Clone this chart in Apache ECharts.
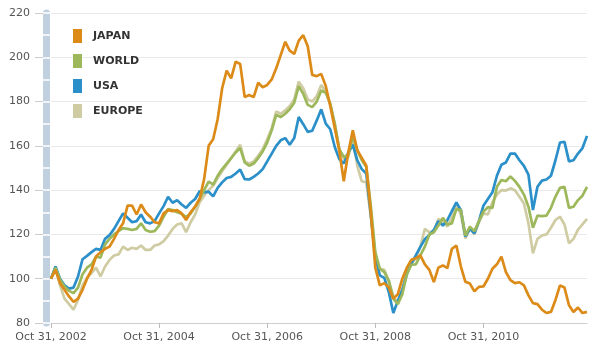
<!DOCTYPE html>
<html>
<head>
<meta charset="utf-8">
<script src="https://cdn.jsdelivr.net/npm/echarts@6/dist/echarts.min.js"></script>
<style>
html,body{margin:0;padding:0;background:#fff;}
#chart{width:600px;height:349px;}
</style>
</head>
<body>
<div id="chart"></div>
<script>
// Monthly index values, Oct 2002 = 100
var startYear = 2002, startMonth = 10, monthCount = 120;
var tickLabels = ['Oct 31, 2002', 'Oct 31, 2004', 'Oct 31, 2006', 'Oct 31, 2008', 'Oct 31, 2010'];
var seriesNames = ['JAPAN', 'WORLD', 'USA', 'EUROPE'];

var japan = [100,104,98,95,92,89.5,91,95,100,104,110,112,113.5,114.5,118,122,125,133,133,129,
  133.5,130,128,125.5,125,129.5,131,130.5,131,129.5,126.5,130,132.6,136,145,160,163,172,186,194,
  190.5,198,197,182,183,182,188.5,186.5,187.5,190,195,201,207,203,201.5,207.5,210,205,192,191.5,
  192.5,187,178,168,158,144,157,167,158,154.5,151,130,105,97,98,96,91,93,100,105,
  108.5,109.2,110.5,106.5,104,98.5,105,106,104.8,113.5,115,105.5,98.6,97.8,94.3,96.3,96.5,100,104.5,106.5,
  110,103,99.4,98,98.4,97,92.5,89,88.5,86,84.5,85,90.4,97,96,88,85,87,84.5,85];

var world = [100,105,99.5,96.5,94.5,93.5,96,102,105,106.5,110,109.5,115.5,118,120,121.5,122.8,122.5,122,122.5,
  125,122,121.2,121.5,124,128,131.5,131,130,129.3,127.8,129.5,132.5,136,140,143.9,142.5,146.5,149.5,152,
  154.5,157,159,152.5,151,152,154.5,157.5,161.5,167,174,173,174.5,176.5,179.5,187,183.5,178.5,177.5,180,
  185,184,179,170,158.5,155,156,164.5,158,153.5,150.5,133,112,104.5,103,99,91,88.5,93,102,
  106.3,106.5,110.5,114.5,120,121,124,127.5,124.5,125,131.5,131,119.5,123.5,121.5,126,130.3,132.3,132,141.5,
  144.6,144,146.2,144.2,141.5,138,132.5,123,128.5,128.3,128.5,132,137.1,141,141.5,132,132.5,135.5,137.5,141.5];

var usa = [100,105.5,100,97,95.5,96,101,108.8,110.3,112,113.5,113,118,119.7,122.5,126,129.5,127.5,125.5,126,
  129,125.5,125,126,129.5,132.8,137,134.3,135.5,133.5,132,134.3,136,139.5,139,139.3,137.2,141,143.5,145.5,
  146,147.5,149.3,145,144.8,146,147.5,149.5,153,156.5,160,162.5,163.5,160.5,163.5,173,169.8,166.3,166.8,171.5,
  176.5,170,167.5,159.5,154,152,157,160.5,153.5,149.5,147.5,129,110,101.5,100.4,94,84.5,90,95,102,
  107,110.5,114.4,117.8,119.8,122,126,124,126.5,130.5,134.5,131,119,122.5,120.5,126,133,136,139,146.5,
  151.5,152.5,156.5,156.5,153.5,151,147,131,141.5,144.3,144.8,146.5,153.5,161.5,161.8,153,153.5,156.5,159,164.5];

var europe = [100,105,97,91,88.5,86,90.5,97,100.5,102.5,105,101,105.5,108.5,110.5,111,114.5,113,114,113.5,
  115,113,113,115,115.5,117,119.5,122.5,124.5,125,121,125.5,129,134.5,137.5,140,142,145.5,148.5,151.5,
  154.5,157.5,160.5,153,152,153,155.5,158.5,163,168,175.5,174.5,176,178,181,189,186,181,180,182.5,
  187.5,184.5,179,170,158.5,154,155,163.5,151,144,143.5,128,110,104.5,104,99,92,89,95,104,
  106.5,109.5,114.4,122.5,121,121.5,127,126,123.5,127.5,133,129,118.2,123,120,125.5,129.5,129,134.5,138,
  140,139.8,140.8,140,137,134,125,111.5,118,119.5,120,123,126.5,128,124.5,116,118,122.2,124.5,127];

var months = [];
for (var k = 0; k < monthCount; k++) {
  var m = startMonth - 1 + k;
  months.push((startYear + Math.floor(m / 12)) + '-' + ('0' + (m % 12 + 1)).slice(-2));
}

var colors = { JAPAN: '#dc8b18', WORLD: '#9cb85a', USA: '#2b90c9', EUROPE: '#cfcba2' };
var dataMap = { JAPAN: japan, WORLD: world, USA: usa, EUROPE: europe };
var drawOrder = ['EUROPE', 'USA', 'WORLD', 'JAPAN'];

var chart = echarts.init(document.getElementById('chart'), null, { renderer: 'canvas' });
var font = 'DejaVu Sans, Verdana, sans-serif';

chart.setOption({
  animation: false,
  backgroundColor: '#ffffff',
  grid: { left: 51, right: 13, top: 13, bottom: 26 },
  legend: {
    data: seriesNames.map(function (n) { return { name: n, icon: 'rect' }; }),
    orient: 'vertical',
    left: 73, top: 29, padding: 0,
    itemWidth: 9, itemHeight: 14, itemGap: 11,
    textStyle: { fontFamily: font, fontSize: 11, fontWeight: 'bold', color: '#333', padding: [0, 0, 0, 6] },
    selectedMode: false
  },
  xAxis: {
    type: 'category',
    data: months,
    boundaryGap: false,
    axisLine: { lineStyle: { color: '#cfcfcf', width: 1 } },
    axisTick: { show: true, interval: function (i) { return i % 24 === 0; }, length: 5, lineStyle: { color: '#bbbbbb' } },
    axisLabel: {
      interval: function (i) { return i % 24 === 0; },
      formatter: function (v, i) { return tickLabels[i / 24] || ''; },
      fontFamily: font, fontSize: 11, color: '#555', margin: 9
    },
    splitLine: { show: false }
  },
  yAxis: [
    {
      type: 'value', min: 80, max: 220, interval: 20, position: 'left', offset: 8,
      axisLine: { show: false },
      axisTick: { show: true, length: 8, lineStyle: { color: '#cccccc' } },
      axisLabel: { fontFamily: font, fontSize: 11, color: '#555', margin: 13 },
      splitLine: { show: true, lineStyle: { color: '#e9e9e9', width: 1 } }
    },
    {
      type: 'value', min: 80, max: 220, interval: 10, position: 'left', offset: 4.5,
      axisLine: { show: true, lineStyle: { color: '#c1d0de', width: 7 } },
      axisTick: { show: false }, axisLabel: { show: false }, splitLine: { show: false }
    },
    {
      type: 'value', min: 80, max: 220, interval: 10, position: 'left', offset: 0, z: 1,
      axisLine: { show: false },
      axisTick: { show: true, length: 8, lineStyle: { color: '#ffffff', width: 1.5 } },
      axisLabel: { show: false }, splitLine: { show: false }
    }
  ],
  series: drawOrder.map(function (n) {
    return {
      name: n, type: 'line', data: dataMap[n], yAxisIndex: 0,
      symbol: 'none', smooth: false,
      lineStyle: { color: colors[n], width: 2.7 },
      itemStyle: { color: colors[n] }
    };
  })
});
</script>
</body>
</html>
